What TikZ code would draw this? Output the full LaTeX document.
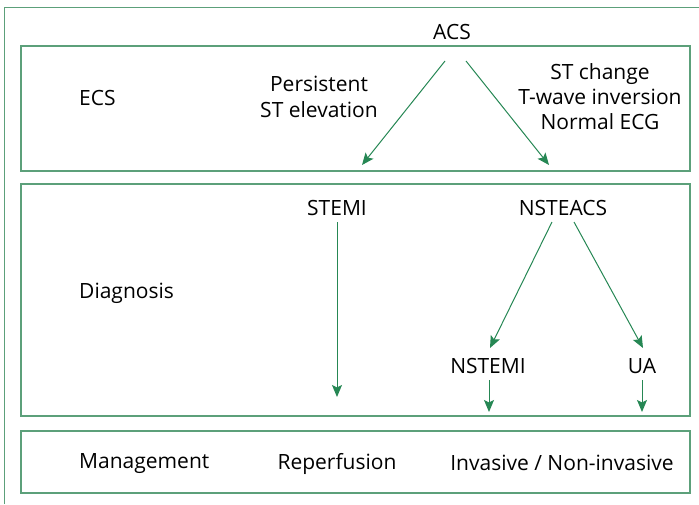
\documentclass[tikz,border=0pt]{standalone}
\usepackage{fontspec}
\setmainfont{Open Sans}
\usetikzlibrary{arrows.meta}
\definecolor{boxgreen}{RGB}{92,160,122}
\definecolor{arrgreen}{RGB}{38,135,84}
\tikzset{
  box/.style={draw=boxgreen, line width=1.3pt},
  txt/.style={font=\fontsize{21}{26}\selectfont, inner sep=0pt, align=center, text=black},
  ltxt/.style={txt, anchor=west},
  arr/.style={draw=arrgreen, line width=1pt, -{Stealth[length=12pt,width=10pt,inset=2.5pt]}}
}
\begin{document}
\begin{tikzpicture}[x=1pt,y=-1pt]
\useasboundingbox (0,0) rectangle (699,504);
% outer frame
\draw[box] (4.5,504) -- (4.5,7.5) -- (699,7.5);
% boxes
\draw[box] (21,46) rectangle (690,171);
\draw[box] (21,184) rectangle (690,416);
\draw[box] (21,431) rectangle (690,493);
% texts
\node[txt] (acs) at (452,32) {ACS};
\node[ltxt] (ecs) at (79,98) {ECS};
\node[txt] (pers) at (319,97) {Persistent\\ST elevation};
\node[txt, font=\fontsize{21}{25}\selectfont] (stchg) at (600,97) {ST change\\T-wave inversion\\Normal ECG};
\node[ltxt] (diag) at (79,293) {Diagnosis};
\node[txt] (stemi) at (337,208) {STEMI};
\node[txt] (nsteacs) at (563,208) {NSTEACS};
\node[txt] (nstemi) at (488,366) {NSTEMI};
\node[txt] (ua) at (642,366) {UA};
\node[ltxt] (mgmt) at (79,464) {Management};
\node[txt] (rep) at (337,464) {Reperfusion};
\node[txt] (inv) at (562,463) {Invasive / Non-invasive};
% connector ends
\coordinate (acsL) at (445,61);
\coordinate (acsR) at (466,61);
\coordinate (ecsL) at (362,165);
\coordinate (ecsR) at (549,165);
\coordinate (stemiS) at (337,222);
\coordinate (stemiE) at (337,397);
\coordinate (nsL) at (552,222);
\coordinate (nsR) at (574,222);
\coordinate (nstemiN) at (490,348);
\coordinate (uaN) at (643,348);
\coordinate (nstemiS) at (489,380);
\coordinate (nstemiE) at (489,412);
\coordinate (uaS) at (642,380);
\coordinate (uaE) at (642,412);
% arrows
\draw[arr] (acsL) -- (ecsL);
\draw[arr] (acsR) -- (ecsR);
\draw[arr] (stemiS) -- (stemiE);
\draw[arr] (nsL) -- (nstemiN);
\draw[arr] (nsR) -- (uaN);
\draw[arr] (nstemiS) -- (nstemiE);
\draw[arr] (uaS) -- (uaE);
\end{tikzpicture}
\end{document}
